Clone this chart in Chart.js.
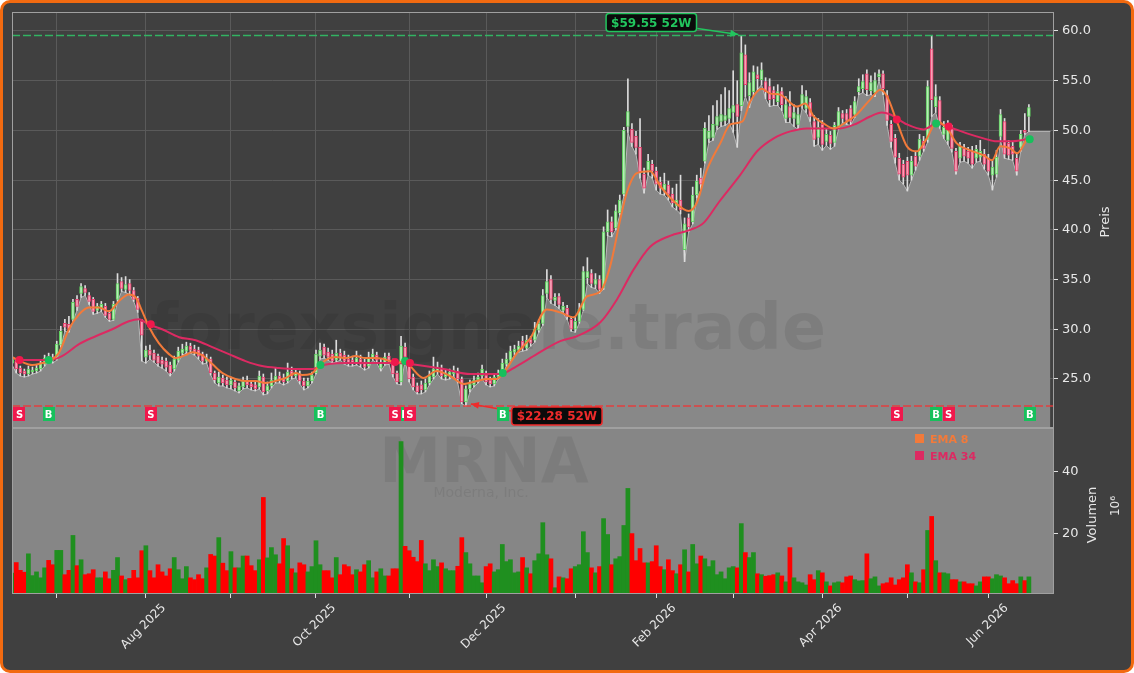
<!DOCTYPE html>
<html>
<head>
<meta charset="utf-8">
<script src="https://cdn.jsdelivr.net/npm/chart.js@4.4.1/dist/chart.umd.min.js"></script>
<style>
  html, body { margin: 0; padding: 0; background: #ffffff; }
  #frame { position: absolute; left: 0; top: 0; width: 1134px; height: 673px; box-sizing: border-box;
           border: 3px solid #f26a10; border-radius: 10px; background: #404040; overflow: hidden; }
  #c { position: absolute; left: -3px; top: -3px; }
</style>
</head>
<body>
<div id="frame"><canvas id="c" width="1134" height="673"></canvas></div>
<script>
// daily candles, index 0 = first trading day shown
const open = [
  26.6,26.8,26.1,25.8,25.5,25.7,25.8,26.0,26.5,27.3, 27.2,27.0,28.4,30.6,30.5,31.0,33.0,33.6,34.1,33.4,
  33.0,31.9,32.1,32.3,31.6,31.0,33.0,34.8,34.0,34.6, 33.9,33.1,30.8,27.2,27.9,27.6,27.3,26.9,26.8,26.4,
  26.0,26.9,27.6,27.8,28.3,28.0,27.9,27.5,26.8,27.0, 25.6,24.6,25.1,24.9,24.4,24.7,23.8,24.2,24.8,24.5,
  24.4,24.2,25.2,23.8,24.3,24.8,25.3,25.1,24.8,25.8, 25.3,25.5,24.8,24.3,24.8,25.6,27.3,28.2,27.7,27.5,
  26.9,27.6,27.4,27.0,26.9,26.6,27.0,26.7,26.3,27.1, 27.4,26.1,26.6,27.3,26.8,25.6,24.7,28.2,26.4,25.2,
  24.3,24.4,23.9,24.6,25.2,25.8,26.1,25.2,25.3,25.5, 25.8,25.0,22.7,24.0,24.4,24.9,25.3,25.4,24.9,24.5,
  25.2,25.6,26.5,26.9,27.7,27.9,28.8,28.1,29.0,28.9, 29.9,30.6,33.6,35.0,32.9,33.3,31.9,32.1,31.0,30.0,
  30.8,32.0,35.2,35.6,34.5,35.0,34.2,39.8,40.8,40.2, 41.7,43.6,50.4,50.1,49.4,48.3,45.6,46.0,46.6,45.9,
  44.8,44.0,44.5,43.6,42.4,43.0,38.0,41.2,40.8,43.5, 45.2,46.9,49.2,49.3,50.5,50.9,51.0,51.2,51.8,52.6,
  52.5,57.6,53.5,53.9,55.6,55.1,54.9,54.4,54.0,52.9, 53.9,51.2,52.4,51.2,50.6,52.6,52.2,52.8,50.9,49.3,
  50.6,48.9,49.5,48.8,50.4,51.7,51.7,52.2,51.6,53.9, 54.2,55.7,54.0,53.8,55.4,55.7,53.5,50.6,49.2,47.2,
  46.6,46.9,45.5,47.4,47.4,48.9,49.1,58.2,52.4,53.0, 49.6,49.0,50.2,47.9,47.2,48.2,47.9,47.9,47.2,47.3,
  47.6,47.2,45.5,45.6,49.4,50.9,48.7,48.4,47.2,48.3, 50.0,51.4
];
const high = [
  27.3,27.0,26.3,26.0,26.3,26.2,26.4,26.9,27.4,27.6, 27.5,28.8,30.3,31.0,31.3,33.0,33.4,34.6,34.4,33.7,
  33.2,32.6,32.8,32.6,31.9,32.8,35.6,35.2,35.3,35.0, 34.2,33.3,31.0,28.3,28.4,27.9,27.5,27.2,27.1,26.7,
  27.3,28.2,28.5,28.7,28.6,28.4,28.2,27.7,27.5,27.2, 25.8,25.7,25.4,25.2,25.2,24.9,24.6,25.2,25.3,24.8,
  24.8,25.8,25.5,24.7,25.6,26.1,25.7,25.5,26.6,26.2, 26.0,25.8,25.1,25.1,25.7,27.9,28.6,28.5,28.1,27.9,
  28.9,28.0,27.8,27.4,27.3,27.8,27.4,27.0,27.7,28.0, 27.7,27.0,27.6,27.6,27.0,25.8,29.3,28.6,26.7,25.5,
  24.6,24.8,25.0,25.8,27.2,26.7,26.4,25.9,26.0,26.3, 26.1,25.2,24.3,24.9,25.3,25.6,26.4,25.8,25.2,25.5,
  25.9,27.0,27.6,28.3,28.4,28.8,29.3,29.4,29.3,30.7, 31.0,34.0,36.0,35.4,33.6,33.6,32.7,32.4,31.3,31.2,
  32.6,36.3,37.2,36.0,35.6,35.4,40.3,42.0,41.3,42.5, 43.5,50.3,55.2,50.7,49.9,51.2,46.2,47.6,47.0,46.3,
  45.3,45.7,44.9,44.2,44.6,45.5,41.2,41.6,44.3,45.5, 46.2,50.8,51.5,52.5,53.0,53.6,54.3,54.0,56.0,55.0,
  59.55,58.6,55.8,56.5,56.4,56.8,55.3,55.2,54.4,54.6, 54.3,53.4,53.9,52.6,52.3,54.5,54.0,53.2,51.5,51.2,
  51.0,50.2,49.9,50.8,52.3,52.0,52.1,52.5,53.4,55.2, 55.6,56.1,55.5,55.8,56.1,56.0,54.0,51.0,49.6,47.7,
  47.0,47.3,47.4,47.8,49.6,49.4,55.0,59.5,54.6,53.4, 50.9,51.0,50.5,48.2,48.8,48.6,48.3,48.4,48.5,49.0,
  48.1,47.6,47.0,48.0,52.1,51.2,49.0,48.9,47.6,50.0, 51.7,52.6
];
const low = [
  26.4,25.6,25.3,25.2,25.3,25.5,25.6,25.8,26.3,26.8, 26.6,26.9,28.2,29.8,29.7,30.8,31.9,33.2,33.4,32.5,
  31.5,31.6,31.8,31.2,30.8,30.9,32.8,33.8,33.7,33.5, 32.8,31.7,26.8,26.6,27.0,26.7,26.3,26.1,25.8,25.3,
  25.8,26.7,27.4,27.6,27.6,27.4,27.0,26.5,26.6,25.4, 24.6,24.3,24.3,24.1,24.0,23.8,23.6,24.0,24.1,23.9,
  23.8,24.0,23.4,23.5,24.1,24.6,24.6,24.4,24.6,25.0, 25.1,24.5,23.9,24.1,24.6,25.5,27.0,27.1,26.9,26.6,
  26.7,26.9,26.5,26.3,26.3,26.4,26.2,25.9,26.1,26.9, 26.6,25.8,26.4,26.5,25.2,24.5,24.4,26.9,24.7,23.9,
  23.5,23.5,23.7,24.4,25.0,25.5,25.0,24.9,25.0,25.3, 24.6,22.5,22.28,23.7,24.2,24.6,25.0,24.4,24.2,24.3,
  25.0,25.4,26.3,26.7,27.4,27.7,27.8,27.9,28.3,28.7, 29.7,30.4,33.2,32.6,32.4,32.1,31.6,31.0,29.8,29.7,
  30.6,31.9,34.6,34.2,34.1,33.6,34.0,39.4,39.3,40.0, 41.5,43.4,49.8,48.4,47.6,45.2,43.7,45.5,45.2,44.0,
  43.6,43.5,43.0,42.3,42.0,41.6,36.8,39.8,40.6,43.2, 44.0,46.7,48.8,49.0,50.1,50.4,50.5,50.8,49.8,48.3,
  52.0,53.4,52.3,53.5,54.1,54.6,53.2,52.4,52.5,52.5, 52.0,50.8,50.8,50.4,50.1,52.2,51.8,50.9,48.4,48.6,
  48.0,48.5,48.1,48.4,50.1,50.8,50.6,50.5,51.3,53.6, 53.8,53.5,53.6,53.4,55.0,53.6,50.5,48.3,46.7,45.0,
  44.6,43.9,45.0,46.0,47.0,47.9,48.8,51.4,51.8,50.2, 49.2,48.6,47.8,45.6,46.8,46.9,46.7,46.2,46.8,46.9,
  46.1,45.5,44.0,45.3,49.0,47.2,47.1,47.0,45.5,47.9, 49.6,49.9
];
const close = [
  27.0,26.0,25.6,25.5,26.0,25.9,26.1,26.6,27.1,27.0, 26.9,28.5,29.8,30.2,30.0,32.7,32.3,34.3,33.7,32.8,
  31.8,32.3,32.5,31.4,31.0,32.5,34.6,34.1,34.5,33.9, 33.0,32.0,29.4,27.9,27.4,26.9,26.6,26.5,26.2,25.6,
  27.0,27.8,28.0,28.3,27.9,27.7,27.3,26.8,27.1,25.6, 24.9,25.2,24.6,24.4,24.9,24.1,24.3,24.8,24.4,24.2,
  24.0,25.3,23.7,24.3,24.9,25.3,24.9,24.7,25.7,25.3, 25.6,24.8,24.3,24.8,25.4,27.5,27.9,27.4,27.2,26.8,
  27.6,27.2,26.8,26.6,26.6,27.1,26.5,26.2,27.2,27.5, 26.9,26.6,27.2,26.8,25.5,24.7,28.3,27.2,25.0,24.2,
  23.7,23.9,24.6,25.3,26.0,26.2,25.3,25.5,25.7,25.9, 25.0,22.7,24.0,24.5,24.9,25.2,26.0,24.7,24.5,25.2,
  25.6,26.6,27.0,27.8,28.0,28.3,28.1,28.9,28.6,30.0, 30.6,33.4,34.8,33.0,33.2,32.5,32.3,31.3,30.0,30.8,
  32.0,35.8,35.8,34.6,35.0,34.0,39.8,40.8,39.8,41.9, 43.0,50.0,51.9,48.8,48.3,45.8,44.2,46.9,45.9,44.6,
  44.2,44.6,43.6,42.7,43.0,42.0,40.6,40.3,43.5,44.9, 44.6,50.2,49.9,50.6,51.4,51.6,51.5,52.2,52.5,51.4,
  57.8,54.6,54.8,55.9,55.2,56.1,53.9,53.1,53.2,53.9, 52.6,52.6,51.3,51.8,51.6,53.6,53.4,51.4,49.1,50.3,
  48.6,49.6,48.7,50.5,51.9,51.2,51.0,50.9,52.9,54.4, 54.9,54.1,54.8,55.0,55.7,54.2,51.0,48.9,47.3,45.6,
  45.3,45.5,46.9,46.4,49.1,48.2,54.4,53.1,53.4,50.6, 50.3,50.2,48.2,45.9,48.4,47.4,47.2,46.6,48.1,47.9,
  46.6,45.9,46.3,47.3,51.6,47.6,47.5,47.6,45.9,49.6, 49.8,52.3
];
// volume in millions
const volume = [
  7.3,10.7,8.2,7.6,13.5,6.5,7.7,5.8,9.0,11.4, 10.0,14.6,14.6,6.8,8.2,19.4,9.7,11.6,6.8,7.1,
  8.4,5.8,5.8,7.7,5.5,8.2,12.3,6.4,5.2,5.6, 8.2,5.8,14.5,16.1,8.1,5.8,10.0,7.7,6.4,8.7,
  12.3,8.4,5.5,9.4,5.8,5.2,6.8,5.5,9.0,13.3, 12.8,18.7,10.5,8.1,14.2,9.0,9.0,12.8,12.8,9.7,
  8.1,11.6,31.6,12.2,15.5,13.2,10.3,18.4,16.1,8.7, 7.4,10.6,10.0,7.7,9.4,17.7,10.0,8.1,8.1,5.8,
  12.3,6.8,10.0,9.4,6.8,8.4,7.7,10.0,11.3,5.8, 7.7,8.7,6.4,6.4,8.7,8.7,49.5,15.9,14.5,12.4,
  11.0,17.8,10.3,8.1,11.6,9.4,10.6,8.7,8.1,8.1, 9.5,18.7,13.9,10.3,6.4,6.4,4.2,9.4,10.3,7.7,
  8.4,16.5,11.0,11.6,7.4,7.7,12.3,9.0,7.1,11.3, 13.5,23.5,13.2,11.9,2.6,6.1,5.8,5.5,8.7,9.4,
  10.0,20.6,13.9,9.0,7.4,9.4,24.8,19.7,10.0,11.9, 12.6,22.6,34.5,20.0,11.3,15.2,10.6,10.6,11.0,16.1,
  9.4,8.4,11.6,8.1,7.1,10.0,14.8,7.7,16.5,10.3, 12.8,11.9,9.4,11.3,6.8,7.7,5.5,9.0,9.4,9.0,
  23.2,13.9,12.3,13.9,7.1,6.8,6.3,6.5,6.8,7.4, 6.4,4.5,15.5,5.8,4.5,4.2,3.5,6.8,5.2,8.1,
  7.4,4.5,3.2,4.2,4.5,4.2,6.1,6.4,5.2,4.8, 4.9,13.5,5.5,6.1,3.2,3.9,4.2,5.8,3.5,5.2,
  5.8,10.0,7.4,4.5,4.2,8.4,21.0,25.5,11.3,7.4, 7.4,7.1,5.2,5.2,4.5,4.5,3.9,3.9,3.2,4.5,
  6.1,6.1,5.5,6.8,6.4,5.8,3.9,4.9,3.9,6.1, 4.9,6.1
];

// EMA lines (candle index, price)
const ema8Idx = [0,2.5,4.9,7.4,9.1,11.5,14,16.5,18.9,21.4,23.9,26.3,28.8,30.5,32.1,33.7,36.2,38.7,40.3,42.8,
  44.4,46.9,49.4,51.9,55.1,57.6,60.1,62.6,65,67.5,70,71.6,73.7,75.7,77.4,79.8,82.3,84.8,87.2,90,
  93.3,95,96.6,98.2,101.5,104.8,108.1,111.4,114.7,117.2,119.6,121.3,124.6,127.9,132,135.3,138.6,141.9,145.2,147.6,
  150.1,151.7,154.2,157.5,160,163.3,167,169,171.5,174.8,177.3,180.3,182.2,185.1,187.2,189.6,193.7,195.8,197.9,200.3,
  202.8,206.1,208.5,211.8,214.3,216,218.4,220.9,223.4,225.8,228.3,230.8,233.2,236.5,239.8,241.9,243.9,246.4,248.1,250.5];
const ema8Val = [27.2,26.7,26.4,26.6,26.8,27.6,30.0,31.5,32.2,32.2,31.8,32.8,33.5,33.2,31.8,30.3,28.6,27.5,27.1,27.4,
  27.7,27.4,26.5,25.6,25.0,24.8,24.8,24.6,24.8,25.1,25.6,25.4,25.5,26.3,26.9,27.2,27.1,27.3,27.1,27.1,
  26.8,26.6,26.8,26.3,25.1,25.8,25.3,24.5,24.8,25.0,25.0,25.6,27.6,29.1,32.0,31.7,31.2,33.3,33.8,36.3,
  41.0,43.7,45.7,45.9,44.4,42.9,41.9,42.7,46.0,48.7,50.6,50.9,52.9,54.2,53.7,53.6,52.4,52.7,51.4,50.7,
  50.2,50.9,51.6,53.1,54.1,53.4,50.9,48.4,47.9,49.2,50.9,50.2,48.7,48.0,47.5,47.0,48.4,48.2,47.7,49.1];
const ema34Idx = [0,2.5,9.1,12.3,16.5,20.6,24.7,28.8,31.3,33.7,37,41.2,45.3,49.4,53.5,57.6,61.7,65.8,70,74.1,
  76.1,78.2,82.3,90,94.1,98.2,106.5,113.1,120.5,124.6,129.5,135.3,139.4,145.2,149.3,153.4,157.5,162.4,167.4,170.7,
  174.5,179.7,183.9,188,192.1,196.2,200.3,204.4,208.5,211.8,214.7,216.8,220.9,225,228.3,231.6,235.7,239.8,243.1,246.4,250.5];
const ema34Val = [27.1,26.9,26.9,27.3,28.5,29.3,30.0,30.8,31.0,30.5,30.0,29.2,28.9,28.2,27.5,26.8,26.3,26.1,26.0,26.0,
  26.3,26.5,26.6,26.6,26.6,26.5,26.0,25.5,25.5,26.3,27.5,28.8,29.3,30.7,33.0,36.0,38.3,39.4,40.0,40.7,
  42.8,45.5,47.9,49.2,49.9,50.2,50.2,50.2,50.7,51.4,51.8,51.6,50.6,50.1,50.7,50.3,49.7,49.2,48.9,48.9,49.1];

// EMA crossover signals
const sigIdx   = [1.8, 9.0, 34.2, 76.1, 94.5, 97.0, 98.2, 121.1, 218.4, 228.1, 231.2, 251.2];
const sigPrice = [26.9, 26.9, 30.5, 26.4, 26.7, 26.8, 26.6, 25.6, 51.1, 50.7, 50.4, 49.1];
const sigType  = ['S','B','S','B','S','B','S','B','S','B','S','B'];

// 52 week extremes
const hi52 = {idx: 180, price: 59.55, text: '$59.55 52W'};
const lo52 = {idx: 112, price: 22.28, text: '$22.28 52W'};

// month ticks (candle index of first trading day)
const monthIdx = [11, 33, 54, 75, 98, 117, 139, 159, 178, 200, 221, 241];
const monthLabels = ['', 'Aug 2025', '', 'Oct 2025', '', 'Dec 2025', '', 'Feb 2026', '', 'Apr 2026', '', 'Jun 2026'];
const priceTicks = [25, 30, 35, 40, 45, 50, 55, 60];
const volTicks = [20, 40];

const ticker = 'MRNA';
const company = 'Moderna, Inc.';
const site = 'forexsignale.trade';

// axis ranges / layout
const xMin = -0.05, xMax = 257.2, areaEnd = 256.3;
const pMin = 20.07, pMax = 61.91;
const vMin = 0.6, vMax = 53.9;
const FONT = '"DejaVu Sans", sans-serif';
const C_UP = '#1f8f1f', C_DN = '#ff0000';
const C_EMA8 = '#f27a3a', C_EMA34 = '#dc2a62';
const C_BUY = '#17c05c', C_SELL = '#f0184c';

const up = close.map((c, i) => c >= open[i]);
const n = close.length;

const lowLine = low.map((v, i) => ({x: i, y: v}));
lowLine.push({x: areaEnd, y: low[n - 1]});

function arrow(ctx, x1, y1, x2, y2, color) {
  ctx.strokeStyle = color; ctx.fillStyle = color; ctx.lineWidth = 1.5;
  ctx.beginPath(); ctx.moveTo(x1, y1); ctx.lineTo(x2, y2); ctx.stroke();
  const a = Math.atan2(y2 - y1, x2 - x1), L = 8, W = 3.5;
  ctx.beginPath();
  ctx.moveTo(x2, y2);
  ctx.lineTo(x2 - L * Math.cos(a) + W * Math.sin(a), y2 - L * Math.sin(a) - W * Math.cos(a));
  ctx.lineTo(x2 - L * Math.cos(a) - W * Math.sin(a), y2 - L * Math.sin(a) + W * Math.cos(a));
  ctx.closePath(); ctx.fill();
}

function badge(ctx, cx, cy, text, color) {
  ctx.font = 'bold 12px ' + FONT;
  const w = ctx.measureText(text).width + 10, h = 18;
  const x = cx - w / 2, y = cy - h / 2, r = 3;
  ctx.beginPath();
  ctx.moveTo(x + r, y); ctx.lineTo(x + w - r, y); ctx.quadraticCurveTo(x + w, y, x + w, y + r);
  ctx.lineTo(x + w, y + h - r); ctx.quadraticCurveTo(x + w, y + h, x + w - r, y + h);
  ctx.lineTo(x + r, y + h); ctx.quadraticCurveTo(x, y + h, x, y + h - r);
  ctx.lineTo(x, y + r); ctx.quadraticCurveTo(x, y, x + r, y);
  ctx.fillStyle = '#0b0b0b'; ctx.fill();
  ctx.strokeStyle = color; ctx.lineWidth = 1.5; ctx.stroke();
  ctx.fillStyle = color; ctx.textAlign = 'center'; ctx.textBaseline = 'middle';
  ctx.fillText(text, cx, cy + 1);
}

const overlay = {
  id: 'overlay',
  beforeDatasetsDraw(chart) {
    const {ctx, chartArea: a, scales: {yv}} = chart;
    ctx.save();
    ctx.fillStyle = '#868686';
    ctx.fillRect(a.left, yv.top, a.right - a.left, yv.bottom - yv.top);
    ctx.fillStyle = 'rgba(0,0,0,0.07)';
    ctx.textAlign = 'center'; ctx.textBaseline = 'alphabetic';
    ctx.font = 'bold 62px ' + FONT;
    ctx.fillText(ticker, 484, 482);
    ctx.font = '14px ' + FONT;
    ctx.fillText(company, 481, 497);
    ctx.restore();
  },
  afterDatasetDraw(chart, args) {
    if (args.index !== 0) return;
    const {ctx} = chart;
    ctx.save();
    ctx.font = 'bold 66px ' + FONT;
    const w = ctx.measureText(site).width;
    const size = 66 * 676 / w;
    ctx.font = 'bold ' + size.toFixed(1) + 'px ' + FONT;
    ctx.fillStyle = 'rgba(0,0,0,0.08)';
    ctx.textAlign = 'center'; ctx.textBaseline = 'alphabetic';
    ctx.fillText(site, 488, 349);
    ctx.restore();
  },
  afterDatasetsDraw(chart) {
    const {ctx, chartArea: a, scales: {x, y, yv}} = chart;
    ctx.save();
    // 52W lines
    ctx.lineWidth = 1.5;
    ctx.setLineDash([8, 3]);
    ctx.strokeStyle = 'rgba(50,185,100,0.95)';
    let yy = y.getPixelForValue(hi52.price);
    ctx.beginPath(); ctx.moveTo(a.left, yy); ctx.lineTo(a.right, yy); ctx.stroke();
    ctx.strokeStyle = 'rgba(235,55,55,0.9)';
    yy = y.getPixelForValue(lo52.price);
    ctx.beginPath(); ctx.moveTo(a.left, yy); ctx.lineTo(a.right, yy); ctx.stroke();
    ctx.setLineDash([]);

    // 52W labels with arrows
    const hx = x.getPixelForValue(hi52.idx), hy = y.getPixelForValue(hi52.price);
    arrow(ctx, hx - 44, hy - 7, hx - 3, hy - 1, '#22c55e');
    badge(ctx, hx - 90, hy - 13, hi52.text, '#22c55e');
    const lx = x.getPixelForValue(lo52.idx), ly = y.getPixelForValue(lo52.price);
    arrow(ctx, lx + 45, ly + 5, lx + 5, ly - 2, '#ef2b2b');
    badge(ctx, lx + 91, ly + 10, lo52.text, '#ef2b2b');

    // signal tags along the bottom of the price panel
    const tagY = y.bottom - 14;
    ctx.font = 'bold 10px ' + FONT;
    ctx.textAlign = 'center'; ctx.textBaseline = 'middle';
    for (const pass of ['B', 'S']) {
      sigIdx.forEach((si, k) => {
        if (sigType[k] !== pass) return;
        const px = x.getPixelForValue(si);
        ctx.fillStyle = pass === 'B' ? C_BUY : C_SELL;
        ctx.fillRect(Math.round(px) - 6, tagY - 7, 12, 14);
        ctx.fillStyle = '#ffffff';
        ctx.fillText(pass, px, tagY + 1);
      });
    }

    // legend
    ctx.font = 'bold 11px ' + FONT;
    ctx.textAlign = 'left'; ctx.textBaseline = 'alphabetic';
    ctx.fillStyle = C_EMA8; ctx.fillRect(915, 434, 9, 9);
    ctx.fillText('EMA 8', 930, 443);
    ctx.fillStyle = C_EMA34; ctx.fillRect(915, 451, 9, 9);
    ctx.fillText('EMA 34', 930, 460);

    // panel frames
    ctx.strokeStyle = '#a0a0a0'; ctx.lineWidth = 1;
    ctx.strokeRect(a.left + 0.5, y.top + 0.5, a.right - a.left - 1, y.bottom - y.top - 1);
    ctx.strokeRect(a.left + 0.5, yv.top + 0.5, a.right - a.left - 1, yv.bottom - yv.top - 1);

    // axis titles
    ctx.fillStyle = '#e8e8e8';
    ctx.textAlign = 'center'; ctx.textBaseline = 'middle';
    const vt = (txt, px, py, f) => {
      ctx.save(); ctx.translate(px, py); ctx.rotate(-Math.PI / 2);
      ctx.font = f; ctx.fillText(txt, 0, 0); ctx.restore();
    };
    vt('Preis', a.right + 52, 222, '13px ' + FONT);
    vt('Volumen', a.right + 39, 515, '13px ' + FONT);
    vt('10\u2076', a.right + 62, 506, '12px ' + FONT);
    ctx.restore();
  }
};

new Chart(document.getElementById('c'), {
  type: 'bar',
  data: {
    datasets: [
      { type: 'line', data: lowLine, yAxisID: 'y', fill: 'start', backgroundColor: '#888888',
        borderColor: '#b8b8b8', borderWidth: 1, pointRadius: 0, tension: 0, order: 10 },
      { type: 'bar', data: close.map((c, i) => ({x: i, y: [low[i], high[i]]})), yAxisID: 'y',
        backgroundColor: '#dcdcdc', barThickness: 1, grouped: false, order: 9 },
      { type: 'bar', data: close.map((c, i) => ({x: i, y: [open[i], c]})), yAxisID: 'y',
        backgroundColor: up.map(u => u ? '#b6ecb6' : '#f7a0b6'),
        borderColor: up.map(u => u ? '#5fd05f' : '#e8406e'),
        borderWidth: 1, borderSkipped: false, barThickness: 3, minBarLength: 1, grouped: false, order: 8 },
      { type: 'line', data: ema34Idx.map((v, k) => ({x: v, y: ema34Val[k]})), yAxisID: 'y',
        borderColor: C_EMA34, borderWidth: 2, pointRadius: 0, cubicInterpolationMode: 'monotone', order: 6 },
      { type: 'line', data: ema8Idx.map((v, k) => ({x: v, y: ema8Val[k]})), yAxisID: 'y',
        borderColor: C_EMA8, borderWidth: 2, pointRadius: 0, cubicInterpolationMode: 'monotone', order: 5 },
      { type: 'line', data: sigIdx.map((v, k) => ({x: v, y: sigPrice[k]})), yAxisID: 'y', showLine: false,
        pointRadius: 4, pointBorderWidth: 0,
        pointBackgroundColor: sigType.map(t => t === 'B' ? C_BUY : C_SELL), order: 1 },
      { type: 'bar', data: volume.map((v, i) => ({x: i, y: v})), yAxisID: 'yv',
        backgroundColor: up.map(u => u ? C_UP : C_DN), barPercentage: 1, categoryPercentage: 1,
        grouped: false, order: 10 }
    ]
  },
  options: {
    responsive: false,
    animation: false,
    layout: { padding: { left: 12, top: 12, right: 0, bottom: 0 } },
    plugins: { legend: { display: false }, tooltip: { enabled: false } },
    scales: {
      x: {
        type: 'linear', min: xMin, max: xMax, offset: false,
        afterBuildTicks: s => { s.ticks = monthIdx.map(v => ({value: v})); },
        afterFit: s => { s.height = 79; },
        grid: { color: '#5a5a5a', offset: false, tickLength: 4, tickColor: '#e0e0e0' },
        border: { display: false },
        ticks: { autoSkip: false, minRotation: 45, maxRotation: 45, labelOffset: 18, padding: 3,
                 color: '#e8e8e8', font: { family: 'DejaVu Sans', size: 12 },
                 callback: (v, i) => monthLabels[i] }
      },
      y: {
        position: 'right', stack: 'panels', stackWeight: 416, min: pMin, max: pMax,
        afterBuildTicks: s => { s.ticks = priceTicks.map(v => ({value: v})); },
        afterFit: s => { s.width = 80; },
        grid: { color: '#5a5a5a', tickLength: 4, tickColor: '#e0e0e0' },
        border: { display: false },
        ticks: { padding: 4, color: '#e8e8e8', font: { family: 'DejaVu Sans', size: 13 },
                 callback: v => v.toFixed(1) }
      },
      yv: {
        position: 'right', stack: 'panels', stackWeight: 166, min: vMin, max: vMax,
        afterBuildTicks: s => { s.ticks = volTicks.map(v => ({value: v})); },
        afterFit: s => { s.width = 80; },
        grid: { drawOnChartArea: false, tickLength: 4, tickColor: '#e0e0e0' },
        border: { display: false },
        ticks: { padding: 4, color: '#e8e8e8', font: { family: 'DejaVu Sans', size: 13 },
                 callback: v => String(v) }
      }
    }
  },
  plugins: [overlay]
});
</script>
</body>
</html>
